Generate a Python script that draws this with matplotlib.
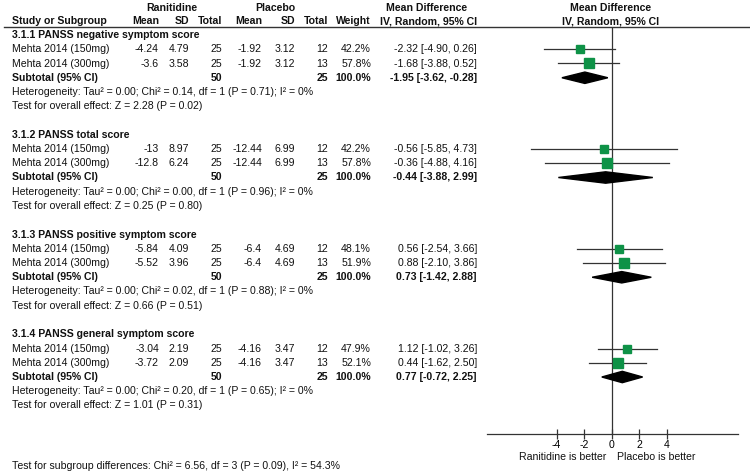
import matplotlib
matplotlib.use('Agg')
import matplotlib.pyplot as plt
from matplotlib.patches import Polygon

plt.rcParams['font.family'] = ['Liberation Sans', 'DejaVu Sans']

# ---------------- data ----------------
groups = ["3.1.1 PANSS negative symptom score", "3.1.2 PANSS total score",
          "3.1.3 PANSS positive symptom score", "3.1.4 PANSS general symptom score"]
studies = ["Mehta 2014 (150mg)", "Mehta 2014 (300mg)"]
r_mean = [[-4.24, -3.6], [-13, -12.8], [-5.84, -5.52], [-3.04, -3.72]]
r_sd = [[4.79, 3.58], [8.97, 6.24], [4.09, 3.96], [2.19, 2.09]]
r_n = [25, 25]
p_mean = [[-1.92, -1.92], [-12.44, -12.44], [-6.4, -6.4], [-4.16, -4.16]]
p_sd = [[3.12, 3.12], [6.99, 6.99], [4.69, 4.69], [3.47, 3.47]]
p_n = [12, 13]
weights = [[42.2, 57.8], [42.2, 57.8], [48.1, 51.9], [47.9, 52.1]]
md = [[-2.32, -1.68], [-0.56, -0.36], [0.56, 0.88], [1.12, 0.44]]
md_lo = [[-4.90, -3.88], [-5.85, -4.88], [-2.54, -2.10], [-1.02, -1.62]]
md_hi = [[0.26, 0.52], [4.73, 4.16], [3.66, 3.86], [3.26, 2.50]]
sub_md = [-1.95, -0.44, 0.73, 0.77]
sub_lo = [-3.62, -3.88, -1.42, -0.72]
sub_hi = [-0.28, 2.99, 2.88, 2.25]
het_chi = ["0.14", "0.00", "0.02", "0.20"]
het_p = ["0.71", "0.96", "0.88", "0.65"]
z_val = ["2.28", "0.25", "0.66", "1.01"]
z_p = ["0.02", "0.80", "0.51", "0.31"]
ticks = [-4, -2, 0, 2, 4]
subgroup_test = "Test for subgroup differences: Chi\u00b2 = 6.56, df = 3 (P = 0.09), I\u00b2 = 54.3%"

# ---------------- layout ----------------
W, H = 750, 472
Y0, PITCH = 35.0, 14.25
FS = 7.6
LINE_C = '#333333'
GREEN = '#0E9247'


def row_of(px):
    return (px - Y0) / PITCH


fig = plt.figure(figsize=(7.5, 4.72), dpi=100)
tax = fig.add_axes([0, 0, 1, 1])
tax.set_xlim(0, W)
tax.set_ylim(row_of(H), row_of(0))
tax.axis('off')

ZERO_PX, UNIT_PX = 611.7, 13.75
AX_L, AX_R, AX_TOP, AX_BOT = 480, 745, 26.5, 433.5
pax = fig.add_axes([AX_L / W, 1 - AX_BOT / H, (AX_R - AX_L) / W, (AX_BOT - AX_TOP) / H])
pax.set_xlim((AX_L - ZERO_PX) / UNIT_PX, (AX_R - ZERO_PX) / UNIT_PX)
pax.set_ylim(row_of(AX_BOT), row_of(AX_TOP))
pax.patch.set_alpha(0)
for s in ['top', 'left', 'right']:
    pax.spines[s].set_visible(False)
pax.spines['bottom'].set_bounds(-9.07, 9.18)
pax.spines['bottom'].set_color(LINE_C)
pax.spines['bottom'].set_linewidth(0.9)
pax.set_yticks([])
pax.set_xticks(ticks)
pax.set_xticklabels([str(t) for t in ticks])
pax.tick_params(axis='x', direction='inout', length=7, width=0.9, labelsize=FS,
                pad=1, color=LINE_C)
pax.axvline(0, color=LINE_C, lw=0.9)

# columns (right edges in px)
C_NAME = 12
C_RM, C_RSD, C_RN = 159, 189, 222
C_PM, C_PSD, C_PN, C_W = 262, 295, 328, 371
C_MD = 477


def txt(x, r, s, ha='left', bold=False):
    tax.text(x, r, s, ha=ha, va='center', fontsize=FS,
             fontweight='bold' if bold else 'normal', color='#111111')


# header
hr1 = row_of(7.5)
hr2 = row_of(21)
txt(172, hr1, "Ranitidine", ha='center', bold=True)
txt(275, hr1, "Placebo", ha='center', bold=True)
txt(427, hr1, "Mean Difference", ha='center', bold=True)
txt(611, hr1, "Mean Difference", ha='center', bold=True)
txt(C_NAME, hr2, "Study or Subgroup", bold=True)
txt(C_RM, hr2, "Mean", ha='right', bold=True)
txt(C_RSD, hr2, "SD", ha='right', bold=True)
txt(C_RN, hr2, "Total", ha='right', bold=True)
txt(C_PM, hr2, "Mean", ha='right', bold=True)
txt(C_PSD, hr2, "SD", ha='right', bold=True)
txt(C_PN, hr2, "Total", ha='right', bold=True)
txt(C_W, hr2, "Weight", ha='right', bold=True)
txt(C_MD, hr2, "IV, Random, 95% CI", ha='right', bold=True)
txt(611, hr2, "IV, Random, 95% CI", ha='center', bold=True)
tax.plot([4, 750], [row_of(AX_TOP)] * 2, color=LINE_C, lw=1.0)

for g, gname in enumerate(groups):
    base = 7 * g
    txt(C_NAME, base, gname, bold=True)
    for i, st in enumerate(studies):
        r = base + 1 + i
        txt(C_NAME, r, st)
        txt(C_RM, r, f"{r_mean[g][i]:g}", ha='right')
        txt(C_RSD, r, f"{r_sd[g][i]:.2f}", ha='right')
        txt(C_RN, r, f"{r_n[i]}", ha='right')
        txt(C_PM, r, f"{p_mean[g][i]:g}", ha='right')
        txt(C_PSD, r, f"{p_sd[g][i]:.2f}", ha='right')
        txt(C_PN, r, f"{p_n[i]}", ha='right')
        txt(C_W, r, f"{weights[g][i]:.1f}%", ha='right')
        txt(C_MD, r, f"{md[g][i]:.2f} [{md_lo[g][i]:.2f}, {md_hi[g][i]:.2f}]", ha='right')
        pax.plot([md_lo[g][i], md_hi[g][i]], [r, r], color=LINE_C, lw=0.9, zorder=2)
        pax.plot([md[g][i]], [r], marker='s', linestyle='none',
                 markersize=weights[g][i] * 0.13, color=GREEN, mec=GREEN, zorder=3)
    rs = base + 3
    txt(C_NAME, rs, "Subtotal (95% CI)", bold=True)
    txt(C_RN, rs, f"{sum(r_n)}", ha='right', bold=True)
    txt(C_PN, rs, f"{sum(p_n)}", ha='right', bold=True)
    txt(C_W, rs, f"{sum(weights[g]):.1f}%", ha='right', bold=True)
    txt(C_MD, rs, f"{sub_md[g]:.2f} [{sub_lo[g]:.2f}, {sub_hi[g]:.2f}]", ha='right', bold=True)
    dh = 0.4
    pax.add_patch(Polygon([[sub_lo[g], rs], [sub_md[g], rs - dh], [sub_hi[g], rs],
                           [sub_md[g], rs + dh]], closed=True, color='black', zorder=3))
    txt(C_NAME, base + 4,
        f"Heterogeneity: Tau\u00b2 = 0.00; Chi\u00b2 = {het_chi[g]}, df = 1 (P = {het_p[g]}); I\u00b2 = 0%")
    txt(C_NAME, base + 5, f"Test for overall effect: Z = {z_val[g]} (P = {z_p[g]})")

# favours labels
rb = row_of(457)
pax.text(-0.4, rb, "Ranitidine is better", ha='right', va='center', fontsize=FS,
         color='#111111', clip_on=False)
pax.text(0.4, rb, "Placebo is better", ha='left', va='center', fontsize=FS,
         color='#111111', clip_on=False)

txt(C_NAME, row_of(466), subgroup_test)

fig.savefig('out.png', dpi=100)
